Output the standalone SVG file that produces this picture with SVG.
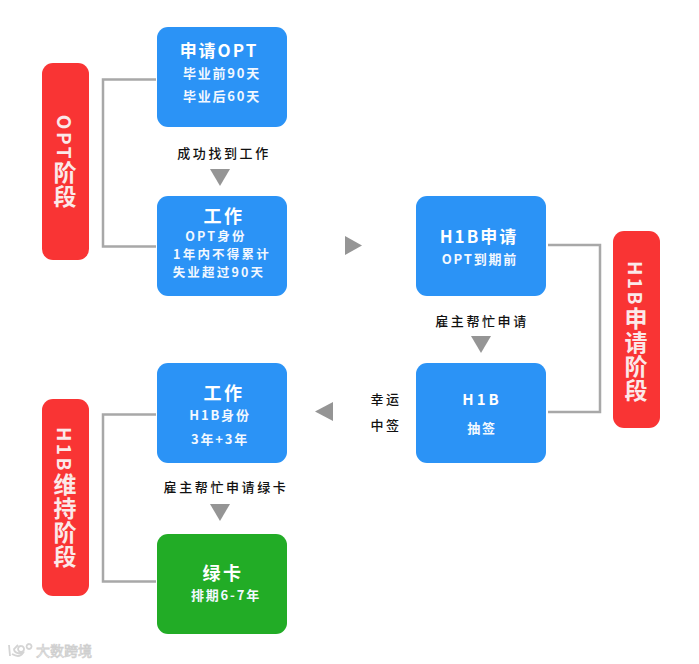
<svg xmlns="http://www.w3.org/2000/svg" width="699" height="664" viewBox="0 0 699 664">
<style>
text{font-family:"Noto Sans CJK SC","Liberation Sans",sans-serif;font-weight:700;text-anchor:middle}
.box{fill:#2b93f6}
.green{fill:#22ac26}
.red{fill:#f93434}
.t{fill:#fff;font-size:17px;letter-spacing:2px}
.big{font-size:18px;letter-spacing:2.5px}
.s{fill:#f2f8ff;font-size:13px;letter-spacing:1.8px}
.c{font-size:12.500px;letter-spacing:2.200px}
.l{fill:#111;font-size:13px;letter-spacing:2.600px;font-weight:500}
.v{fill:#fbe9e9;font-size:23px;writing-mode:vertical-rl;letter-spacing:1px}
.n{font-size:19px;letter-spacing:2.500px}
.b{fill:none;stroke:#a8a8a8;stroke-width:2.500}
.a{fill:#959595}
</style>
<rect width="699" height="664" fill="#fff"/>
<g id="connectors">
<path class="b" d="M156 79.500H103V246.500H156"/>
<path class="b" d="M548 245H600V412H548"/>
<path class="b" d="M156 414.500H103V581.500H156"/>
<path class="a" d="M210 169H230L220 186Z"/>
<path class="a" d="M345 236V255L362 245.500Z"/>
<path class="a" d="M471 336H491L481 353Z"/>
<path class="a" d="M333 402V421L315 411.500Z"/>
<path class="a" d="M210 504H230L220 521Z"/>
</g>
<g id="phase-opt"><rect class="red" x="42" y="63" width="47" height="197" rx="11"/><text class="v" x="65" y="162"><tspan class="n">OPT</tspan>阶段</text></g>
<g id="phase-h1b-apply"><rect class="red" x="613" y="231" width="47" height="197" rx="11"/><text class="v" x="636" y="332"><tspan class="n">H1B</tspan>申请阶段</text></g>
<g id="phase-h1b-keep"><rect class="red" x="42" y="399" width="47" height="197" rx="11"/><text class="v" x="65" y="498"><tspan class="n">H1B</tspan>维持阶段</text></g>
<g id="apply-opt"><rect class="box" x="157" y="27" width="130" height="100" rx="11"/><text class="t" x="219" y="57">申请OPT</text><text class="s" x="222" y="78">毕业前90天</text><text class="s" x="222" y="101">毕业后60天</text></g>
<g id="work-opt"><rect class="box" x="157" y="196" width="130" height="100" rx="11"/><text class="t big" x="224" y="223">工作</text><text class="s c" x="216" y="240.500">OPT身份</text><text class="s c" x="222" y="258.500">1年内不得累计</text><text class="s c" x="219" y="276.500">失业超过90天</text></g>
<g id="h1b-apply"><rect class="box" x="416" y="196" width="130" height="100" rx="11"/><text class="t" x="479" y="243">H1B申请</text><text class="s" x="480" y="264">OPT到期前</text></g>
<g id="h1b-lottery"><rect class="box" x="416" y="363" width="130" height="100" rx="11"/><text class="t" x="482" y="405" style="font-size:15px;letter-spacing:3px">H1B</text><text class="s" x="482" y="433">抽签</text></g>
<g id="work-h1b"><rect class="box" x="157" y="363" width="130" height="100" rx="11"/><text class="t big" x="224" y="400">工作</text><text class="s" x="220" y="420">H1B身份</text><text class="s" x="220" y="444">3年+3年</text></g>
<g id="green-card"><rect class="green" x="157" y="534" width="130" height="100" rx="11"/><text class="t big" x="223" y="580">绿卡</text><text class="s" x="226" y="600">排期6-7年</text></g>
<g id="labels">
<text class="l" x="224" y="158">成功找到工作</text>
<text class="l" x="482" y="326">雇主帮忙申请</text>
<text class="l" x="386" y="404">幸运</text>
<text class="l" x="386" y="430">中签</text>
<text class="l" x="226" y="492">雇主帮忙申请绿卡</text>
</g>
<g id="watermark">
<path d="M9 645L10 656M12 654C17 657 21 656 23 653C19 654 14 653 14 649L18 645M21 646A3 3 0 1 0 21.100 646M29 644A2.500 2.500 0 1 0 29.100 644" fill="none" stroke="#d4d4d4" stroke-width="1.800"/>
<text x="64" y="656" style="font-size:14px;font-weight:400;fill:#fff;stroke:#cfcfcf;stroke-width:.8px">大数跨境</text>
</g>
</svg>
